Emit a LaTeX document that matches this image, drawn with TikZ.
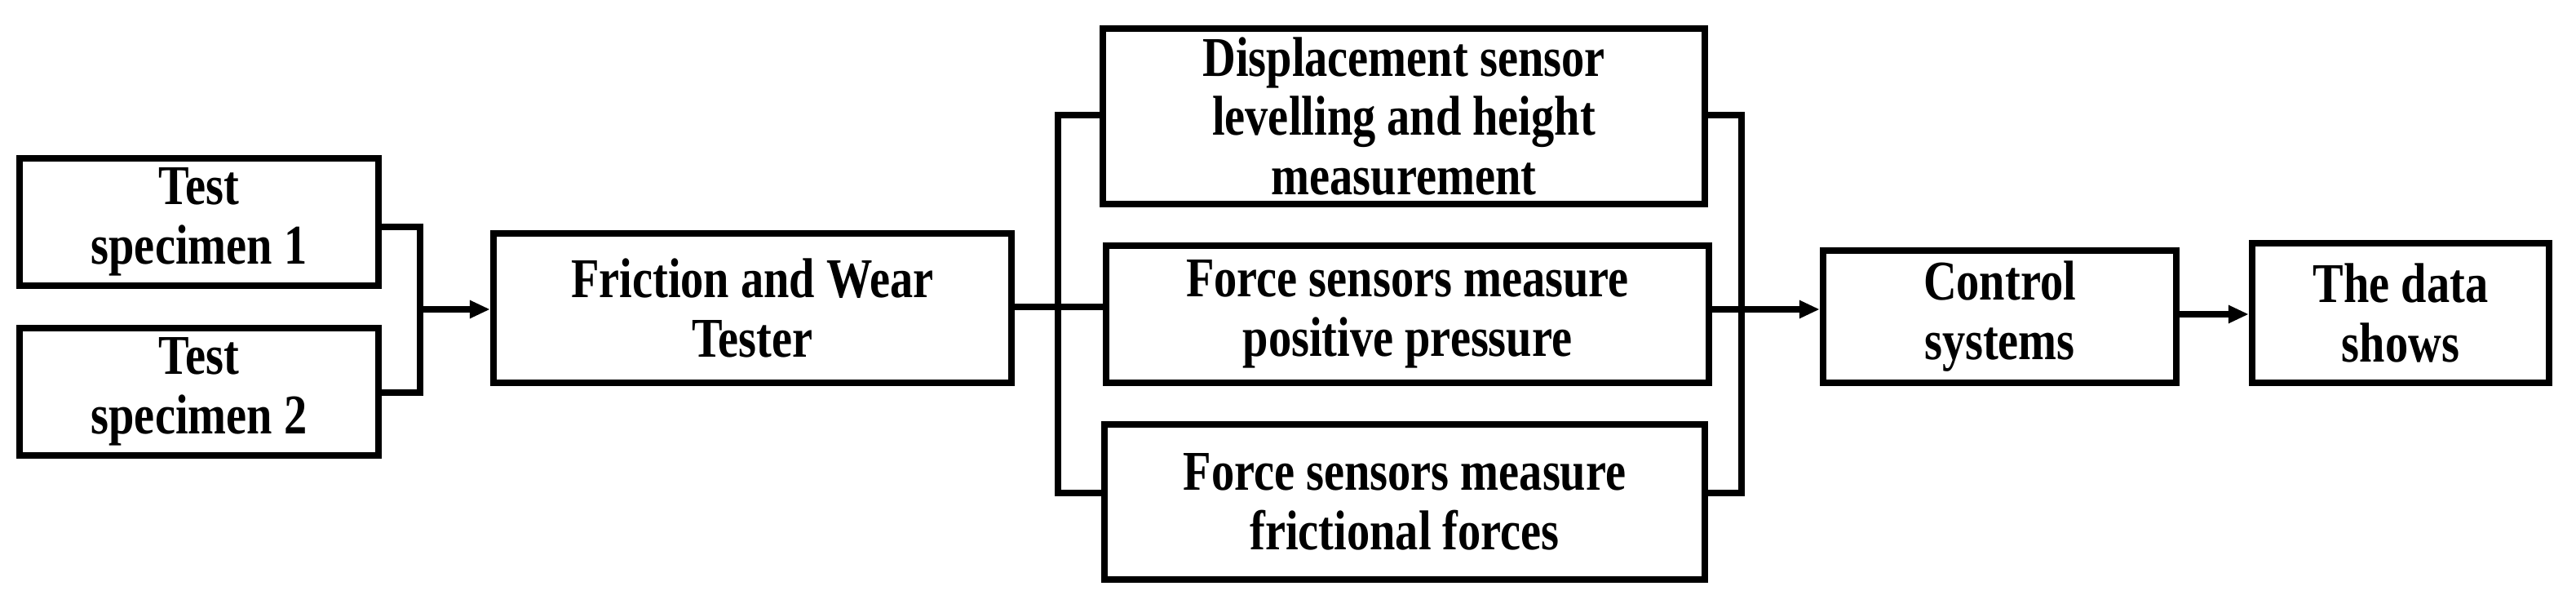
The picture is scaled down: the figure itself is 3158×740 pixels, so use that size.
\documentclass[tikz,border=0pt]{standalone}
\usepackage{fontspec}
\setmainfont{Liberation Serif}[FakeStretch=0.82]
\usetikzlibrary{arrows.meta}
\newcommand{\mybx}[6]{\node[box,minimum width={(#4-#2)*0.24pt},minimum height={(#5-#3)*0.24pt}] (#1) at ({(#2+#4)/2},{(#3+#5)/2}) {#6};}
\begin{document}
\begin{tikzpicture}[x=0.24pt,y=-0.24pt,
 box/.style={draw,line width=2pt,inner sep=0pt,align=center,font=\fontsize{16.5}{17.5}\selectfont\bfseries},
 ln/.style={line width=1.8pt},
 arr/.style={ln,-{Triangle[length=6pt,width=5pt]}}]
\useasboundingbox (0,0) rectangle (3158,740);
\mybx{t1}{24}{194}{464}{350}{Test\\specimen 1}
\mybx{t2}{24}{402}{464}{558}{Test\\specimen 2}
\mybx{fw}{605}{286}{1240}{469}{Friction and Wear\\Tester}
\mybx{ds}{1352}{35}{2090}{250}{Displacement sensor\\levelling and height\\measurement}
\mybx{fp}{1356}{301}{2095}{469}{Force sensors measure\\positive pressure}
\mybx{ff}{1354}{520}{2090}{710}{Force sensors measure\\frictional forces}
\mybx{cs}{2235}{307}{2668}{469}{Control\\systems}
\mybx{dt}{2761}{298}{3125}{469}{The data\\shows}
\coordinate (lb) at (515,379);
\coordinate (rb) at (2135,379);
\coordinate (mb) at (1297,376);
\draw[ln] (t1.east|-0,278) -- (515,278) -- (515,481) -- (t2.east|-0,481);
\draw[arr] (lb) -- (fw.west|-lb);
\draw[ln] (fw.east|-mb) -- (fp.west|-mb);
\draw[ln] (ds.west|-0,141) -- (1297,141) -- (1297,604) -- (ff.west|-0,604);
\draw[ln] (ds.east|-0,141) -- (2135,141) -- (2135,604) -- (ff.east|-0,604);
\draw[arr] (fp.east|-rb) -- (cs.west|-rb);
\draw[arr] (cs.east|-0,385) -- (dt.west|-0,385);
\end{tikzpicture}
\end{document}
